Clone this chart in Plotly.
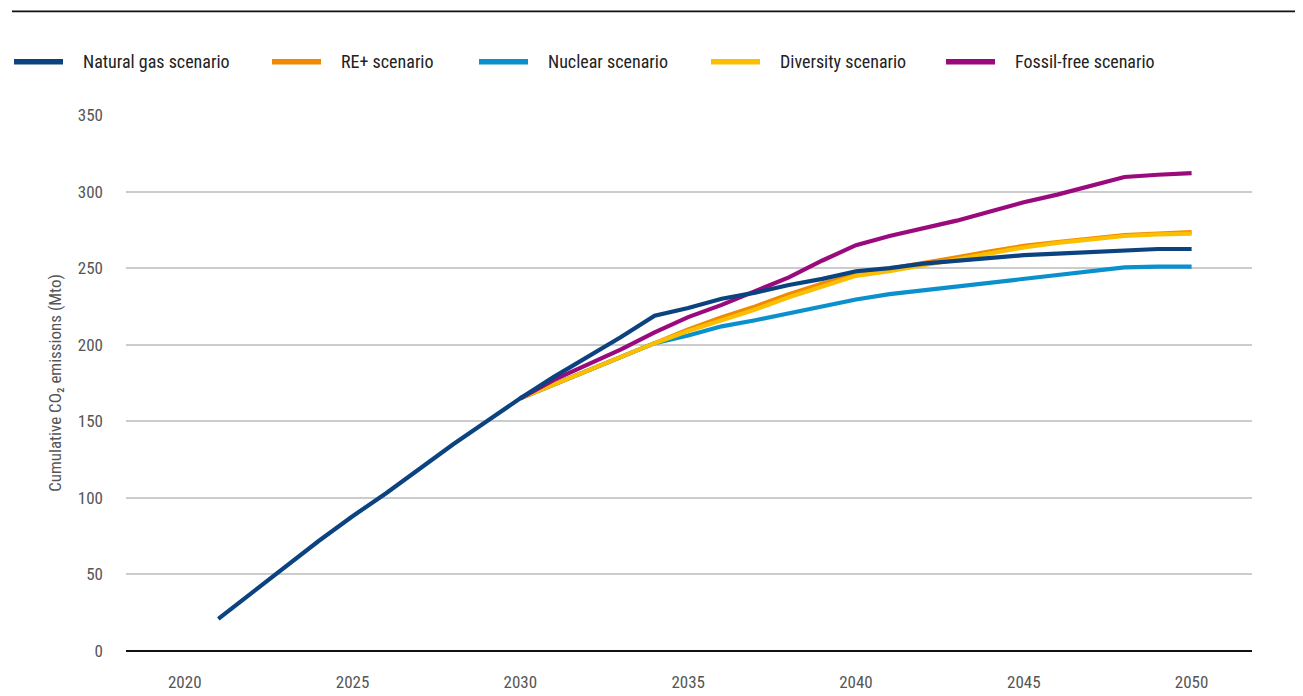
import plotly.graph_objects as go

years_all = list(range(2021, 2051))
years_div = list(range(2030, 2051))

natural_gas = [21, 38, 55, 72, 88, 103, 119, 135, 150, 165,
               179, 192, 205, 219, 224, 230, 234, 239, 243, 248,
               250, 253, 255, 257, 258.5, 259.5, 260.5, 261.5, 262.5, 262.5]
re_plus = [165, 174, 183, 192, 201, 210, 218, 225, 233, 240,
           246, 249.5, 253, 257, 261, 264.5, 267, 269.5, 271.5, 272.5, 273.5]
nuclear = [165, 174, 183, 192, 201, 206, 212, 216, 220.5, 225.5,
           229.5, 233, 235.5, 238, 240, 243, 245.5, 248, 250.5, 251, 251]
diversity = [165, 174, 183, 192, 201, 209, 216, 223, 231, 238,
             245, 248, 252, 256, 260, 263.5, 266.5, 269, 271, 272, 272.5]
fossil_free = [165, 177, 187, 197, 208, 218, 226, 235, 244, 255,
               265, 271, 276, 281, 287, 293, 298, 303.5, 309.5, 311, 312]

names = ["Natural gas scenario", "RE+ scenario", "Nuclear scenario",
         "Diversity scenario", "Fossil-free scenario"]
colors = ["#0b4381", "#f08a00", "#0a90cc", "#fbbf00", "#9b0a7d"]
series = [(years_all, natural_gas), (years_div, re_plus), (years_div, nuclear),
          (years_div, diversity), (years_div, fossil_free)]

x_ticks = [2020, 2025, 2030, 2035, 2040, 2045, 2050]
y_ticks = [0, 50, 100, 150, 200, 250, 300, 350]

FONT = "Noto Sans Condensed, Roboto Condensed, Liberation Sans Narrow, Roboto, sans-serif"

fig = go.Figure()
draw_order = [1, 2, 3, 4, 0]
for i in draw_order:
    xs, ys = series[i]
    fig.add_trace(go.Scatter(x=xs, y=ys, mode="lines", name=names[i],
                             line=dict(color=colors[i], width=4.2),
                             showlegend=False))

# layout geometry in pixels (page has an 8px body offset)
OFF = 8
W, H = 1303, 696
L, R, T, B = 118, 59, 107, 46
pw = W - L - R
ph = H - T - B

def px(xp):
    return (xp - OFF - L) / pw

def py(yp):
    return (H - B - (yp - OFF)) / ph

shapes = []
annotations = []
# top rule
shapes.append(dict(type="line", xref="paper", yref="paper",
                   x0=px(12), x1=px(1320), y0=py(10), y1=py(10),
                   line=dict(color="#111111", width=1.6)))
# custom legend
leg_line_x = [12, 270, 477, 709, 944]
for i, name in enumerate(names):
    x0 = leg_line_x[i]
    shapes.append(dict(type="line", xref="paper", yref="paper",
                       x0=px(x0 + 2), x1=px(x0 + 51), y0=py(61), y1=py(61),
                       line=dict(color=colors[i], width=5.5)))
    annotations.append(dict(xref="paper", yref="paper", x=px(x0 + 69), y=py(61),
                            text=name, showarrow=False, xanchor="left", yanchor="middle",
                            font=dict(family=FONT, size=18, color="#222222")))

fig.update_layout(
    width=W, height=H,
    margin=dict(l=L, r=R, t=T, b=B),
    paper_bgcolor="white", plot_bgcolor="white",
    showlegend=False,
    shapes=shapes, annotations=annotations,
    font=dict(family=FONT, size=17, color="#555555"),
    xaxis=dict(range=[2018.25, 2051.8], tickvals=x_ticks,
               ticktext=[str(v) for v in x_ticks],
               showgrid=False, zeroline=False, showline=False,
               ticks="", ticklabelstandoff=19,
               tickfont=dict(family=FONT, size=17, color="#555555")),
    yaxis=dict(range=[0, 350], tickvals=y_ticks,
               showgrid=True, gridcolor="#cccccc", gridwidth=1.5,
               zeroline=True, zerolinecolor="#111111", zerolinewidth=1.6,
               showline=False, ticks="", ticklabelstandoff=22,
               tickfont=dict(family=FONT, size=17, color="#555555"),
               title=dict(text="Cumulative CO₂ emissions (Mto)", standoff=11,
                          font=dict(family=FONT, size=17, color="#555555"))),
)

fig.write_html("out.html")
